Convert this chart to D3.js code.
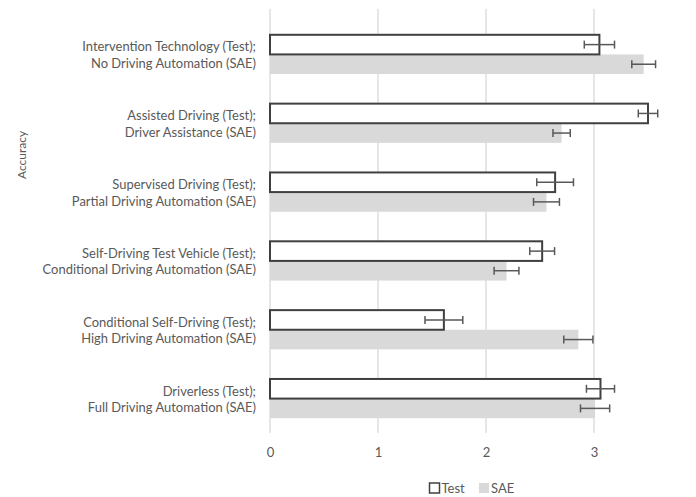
<!DOCTYPE html>
<html>
<head>
<meta charset="utf-8">
<script src="https://cdn.jsdelivr.net/npm/d3@7"></script>
<style>
  html, body { margin: 0; padding: 0; background: #fff; }
  svg { display: block; }
  text { font-family: Lato, "Liberation Sans", Arial, sans-serif; }
</style>
</head>
<body>
<svg id="chart" width="696" height="497"></svg>
<script>
// ---- data ----
const categoriesTest = [
  "Intervention Technology (Test);",
  "Assisted Driving (Test);",
  "Supervised Driving (Test);",
  "Self-Driving Test Vehicle (Test);",
  "Conditional Self-Driving (Test);",
  "Driverless (Test);"
];
const categoriesSAE = [
  "No Driving Automation (SAE)",
  "Driver Assistance (SAE)",
  "Partial Driving Automation (SAE)",
  "Conditional Driving Automation (SAE)",
  "High Driving Automation (SAE)",
  "Full Driving Automation (SAE)"
];
const seriesNames = ["Test", "SAE"];
const testValues = [3.05, 3.50, 2.64, 2.52, 1.61, 3.06];
const testErrors = [0.14, 0.09, 0.17, 0.115, 0.175, 0.13];
const saeValues = [3.46, 2.70, 2.56, 2.19, 2.855, 3.01];
const saeErrors = [0.11, 0.08, 0.12, 0.115, 0.135, 0.135];
const xTicks = [0, 1, 2, 3];
const yAxisTitle = "Accuracy";

// ---- layout ----
const svg = d3.select("#chart");
const x0 = 270, unit = 108;
const gridTop = 9, plotBottom = 433;

const x = d3.scaleLinear().domain([0, 4]).range([x0, x0 + 4 * unit]);
const idx = d3.range(categoriesTest.length);
const y = d3.scaleBand().domain(idx).range([20, plotBottom]).paddingInner(0.43).paddingOuter(0.215);
const sub = d3.scaleBand().domain(seriesNames).range([0, y.bandwidth()]);

// gridlines
svg.append("g").selectAll("line").data(xTicks).join("line")
  .attr("x1", d => x(d)).attr("x2", d => x(d))
  .attr("y1", gridTop).attr("y2", plotBottom)
  .attr("stroke", "#d9d9d9").attr("stroke-width", 1.3);

// x axis tick labels
const xAxis = d3.axisBottom(x).tickValues(xTicks).tickSize(0).tickFormat(d3.format("d"));
const gx = svg.append("g").attr("transform", `translate(0,${plotBottom})`).call(xAxis);
gx.select(".domain").remove();
gx.selectAll("text").attr("dy", "0.35em").attr("y", 19)
  .attr("font-size", 13).attr("fill", "#595959")
  .attr("font-family", "Lato, Liberation Sans, Arial, sans-serif");

const rows = idx.map(i => ({
  i,
  test: testValues[i], testErr: testErrors[i],
  sae: saeValues[i], saeErr: saeErrors[i]
}));

// SAE bars
svg.append("g").selectAll("rect").data(rows).join("rect")
  .attr("x", x(0))
  .attr("y", d => y(d.i) + sub("SAE"))
  .attr("width", d => x(d.sae) - x(0))
  .attr("height", sub.bandwidth())
  .attr("fill", "#d9d9d9");

// Test bars
svg.append("g").selectAll("rect").data(rows).join("rect")
  .attr("x", x(0))
  .attr("y", d => y(d.i) + sub("Test"))
  .attr("width", d => x(d.test) - x(0))
  .attr("height", sub.bandwidth())
  .attr("fill", "#ffffff")
  .attr("stroke", "#404040").attr("stroke-width", 2);

// error bars
function errBars(key, errKey) {
  const g = svg.append("g").attr("stroke", "#595959").attr("stroke-width", 1.5);
  rows.forEach(d => {
    const cy = y(d.i) + sub(key) + sub.bandwidth() / 2;
    const a = x(d[key.toLowerCase()] - d[errKey]);
    const b = x(d[key.toLowerCase()] + d[errKey]);
    g.append("line").attr("x1", a).attr("x2", b).attr("y1", cy).attr("y2", cy);
    g.append("line").attr("x1", a).attr("x2", a).attr("y1", cy - 4).attr("y2", cy + 4);
    g.append("line").attr("x1", b).attr("x2", b).attr("y1", cy - 4).attr("y2", cy + 4);
  });
}
errBars("Test", "testErr");
errBars("SAE", "saeErr");

// category labels
const lab = svg.append("g").attr("font-size", 12).attr("fill", "#595959").attr("text-anchor", "end");
const labTexts = [];
rows.forEach(d => {
  const c = y(d.i) + y.bandwidth() / 2;
  labTexts.push(lab.append("text").attr("x", 256).attr("y", c - 7.5).attr("dy", "0.35em").text(categoriesTest[d.i]));
  labTexts.push(lab.append("text").attr("x", 256).attr("y", c + 9).attr("dy", "0.35em").text(categoriesSAE[d.i]));
});
// size so the first label spans ~174px as in the reference
const w0 = labTexts[0].node().getComputedTextLength();
lab.attr("font-size", 12 * 174 / w0);

// y axis title
svg.append("text")
  .attr("transform", "translate(22,155) rotate(-90)")
  .attr("text-anchor", "middle").attr("dy", "0.35em")
  .attr("font-size", 12).attr("fill", "#595959")
  .text(yAxisTitle);

// legend
const leg = svg.append("g").attr("transform", "translate(429,488)");
leg.append("rect").attr("x", 0.5).attr("y", -5).attr("width", 10).attr("height", 10)
  .attr("fill", "#fff").attr("stroke", "#404040").attr("stroke-width", 1.5);
leg.append("text").attr("x", 12.5).attr("y", 0).attr("dy", "0.35em")
  .attr("font-size", 13).attr("fill", "#595959").text(seriesNames[0]);
leg.append("rect").attr("x", 50).attr("y", -5).attr("width", 10).attr("height", 10)
  .attr("fill", "#d9d9d9");
leg.append("text").attr("x", 62).attr("y", 0).attr("dy", "0.35em")
  .attr("font-size", 13).attr("fill", "#595959").text(seriesNames[1]);
</script>
</body>
</html>
